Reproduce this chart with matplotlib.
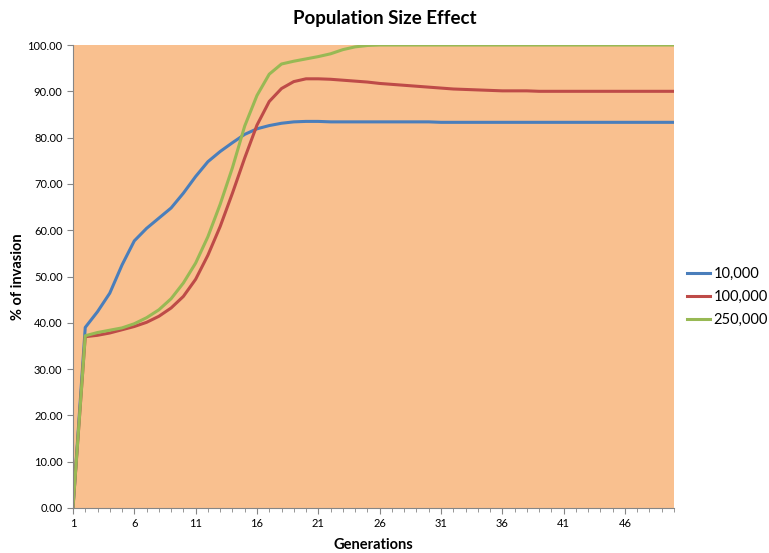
import matplotlib
matplotlib.use('Agg')
import matplotlib.pyplot as plt
from matplotlib.ticker import MultipleLocator, FormatStrFormatter

plt.rcParams['font.family'] = ['Lato', 'DejaVu Sans']

generations = list(range(1, 51))

# 10,000
pop_10k = [0, 39.0, 42.4, 46.4, 52.5, 57.7, 60.4, 62.6, 64.8, 68.0,
           71.6, 74.8, 77.0, 78.9, 80.7, 81.9, 82.6, 83.1, 83.4, 83.5,
           83.5, 83.4, 83.4, 83.4, 83.4, 83.4, 83.4, 83.4, 83.4, 83.4,
           83.3, 83.3, 83.3, 83.3, 83.3, 83.3, 83.3, 83.3, 83.3, 83.3,
           83.3, 83.3, 83.3, 83.3, 83.3, 83.3, 83.3, 83.3, 83.3, 83.3]

# 100,000
pop_100k = [0, 37.0, 37.3, 37.8, 38.5, 39.2, 40.1, 41.4, 43.2, 45.7,
            49.4, 54.6, 60.8, 68.0, 75.6, 82.7, 87.8, 90.6, 92.1, 92.7,
            92.7, 92.6, 92.4, 92.2, 92.0, 91.7, 91.5, 91.3, 91.1, 90.9,
            90.7, 90.5, 90.4, 90.3, 90.2, 90.1, 90.1, 90.1, 90.0, 90.0,
            90.0, 90.0, 90.0, 90.0, 90.0, 90.0, 90.0, 90.0, 90.0, 90.0]

# 250,000
pop_250k = [0, 37.2, 37.9, 38.4, 38.9, 39.8, 41.1, 42.8, 45.2, 48.6,
            52.9, 58.6, 65.6, 73.5, 82.5, 89.1, 93.7, 95.9, 96.5, 97.0,
            97.5, 98.1, 99.0, 99.6, 99.9, 100, 100, 100, 100, 100,
            100, 100, 100, 100, 100, 100, 100, 100, 100, 100,
            100, 100, 100, 100, 100, 100, 100, 100, 100, 100]

series_labels = ['10,000', '100,000', '250,000']
colors = ['#4A7EBB', '#BE4B48', '#98B954']
x_ticks = list(range(1, 51, 5))

fig = plt.figure(figsize=(7.69, 5.53), dpi=100)
ax = fig.add_axes([0.0949, 0.0814, 0.7816, 0.8372])
ax.set_facecolor('#F9C08F')

for vals, lab, col in zip([pop_10k, pop_100k, pop_250k], series_labels, colors):
    ax.plot(generations, vals, color=col, linewidth=2.2, label=lab)

ax.set_xlim(1, 50)
ax.set_ylim(0, 100)
ax.set_xticks(x_ticks)
ax.xaxis.set_minor_locator(MultipleLocator(1))
ax.yaxis.set_major_locator(MultipleLocator(10))
ax.yaxis.set_major_formatter(FormatStrFormatter('%.2f'))
ax.tick_params(axis='both', which='both', direction='out', color='#868686', labelsize=8)
ax.tick_params(axis='x', which='major', length=4)
ax.tick_params(axis='x', which='minor', length=3)
ax.tick_params(axis='y', length=4)

for side in ['top', 'right']:
    ax.spines[side].set_visible(False)
for side in ['left', 'bottom']:
    ax.spines[side].set_color('#868686')

fig.text(0.5, 0.967, 'Population Size Effect', ha='center', va='center',
         fontsize=13.5, fontweight='bold')
ax.set_xlabel('Generations', fontsize=10.5, fontweight='bold', labelpad=6)
ax.set_ylabel('% of invasion', fontsize=10.5, fontweight='bold', labelpad=2)

fig.legend(loc='center left', bbox_to_anchor=(0.876, 0.463), frameon=False,
           fontsize=10.5, handlelength=1.6, handletextpad=0.25, labelspacing=0.6)

plt.savefig('out.png', dpi=100)
